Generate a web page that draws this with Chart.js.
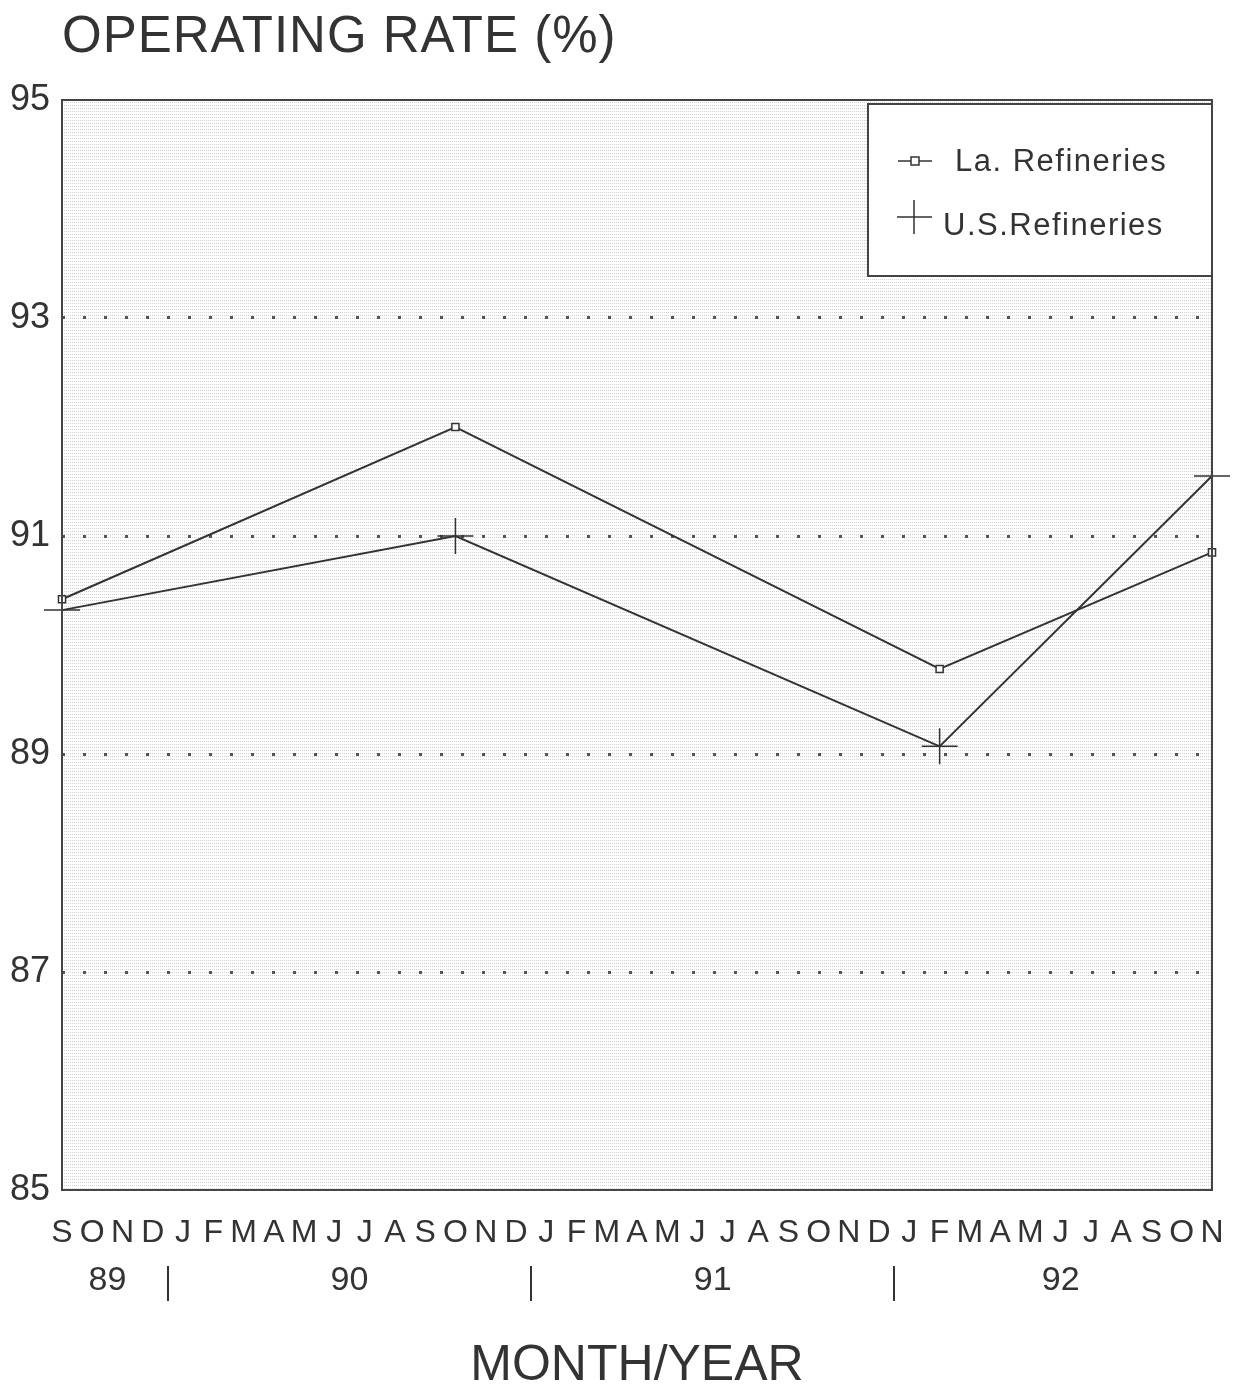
<!DOCTYPE html>
<html>
<head>
<meta charset="utf-8">
<script src="https://cdn.jsdelivr.net/npm/chart.js@4.4.1/dist/chart.umd.min.js"></script>
<style>
  html, body { margin: 0; padding: 0; background: #fff; overflow: hidden; }
  #wrap { width: 1234px; height: 1389px; position: relative; }
  canvas { display: block; }
</style>
</head>
<body>
<div id="wrap"><canvas id="chart"></canvas></div>
<script>
// month letters, Sep 1989 .. Nov 1992
const months = ["S","O","N","D",
  "J","F","M","A","M","J","J","A","S","O","N","D",
  "J","F","M","A","M","J","J","A","S","O","N","D",
  "J","F","M","A","M","J","J","A","S","O","N"];
// year labels and the month index they sit over
const years = ["89", "90", "91", "92"];
const yearCenters = [1.5, 9.5, 21.5, 33];
const yearBreaks = [3.5, 15.5, 27.5];

// sampled months (index into months) and readings
const sampleIdx = [0, 13, 29, 38];
const laRefineries = [90.42, 92.0, 89.78, 90.85];
const usRefineries = [90.32, 91.0, 89.07, 91.55];

const yTicks = [85, 87, 89, 91, 93, 95];

const FONT = "'Liberation Sans', Arial, Helvetica, sans-serif";
const INK = "#333";

// spread the sampled readings over the month axis, gaps elsewhere
function toSeries(vals) {
  const out = months.map(() => null);
  sampleIdx.forEach((m, i) => { out[m] = vals[i]; });
  return out;
}

// faint dotted texture for the plot area
function makePattern(ctx) {
  const c = document.createElement("canvas");
  c.width = 2; c.height = 3;
  const g = c.getContext("2d");
  g.fillStyle = "#fff";
  g.fillRect(0, 0, 2, 3);
  g.fillStyle = "#d2d2d2";
  g.fillRect(0, 0, 1, 1);
  return ctx.createPattern(c, "repeat");
}

const decor = {
  id: "decor",
  beforeDraw(chart) {
    const { ctx, chartArea: a } = chart;
    ctx.save();
    ctx.fillStyle = makePattern(ctx);
    ctx.fillRect(a.left, a.top, a.right - a.left, a.bottom - a.top);
    ctx.restore();
  },
  afterDraw(chart) {
    const { ctx, chartArea: a, scales } = chart;
    const x = scales.x;
    ctx.save();
    // frame
    ctx.strokeStyle = "#444";
    ctx.lineWidth = 2;
    ctx.strokeRect(a.left, a.top, a.right - a.left, a.bottom - a.top);

    // title
    ctx.fillStyle = INK;
    ctx.font = "51px " + FONT;
    ctx.textAlign = "left";
    ctx.textBaseline = "alphabetic";
    ctx.letterSpacing = "1px";
    ctx.fillText("OPERATING RATE (%)", a.left, 52);
    ctx.letterSpacing = "0px";

    // years
    ctx.font = "34px " + FONT;
    ctx.textAlign = "center";
    ctx.textBaseline = "middle";
    years.forEach((y, i) => {
      ctx.fillText(y, x.getPixelForValue(yearCenters[i]), 1281);
    });
    ctx.lineWidth = 2;
    ctx.strokeStyle = INK;
    yearBreaks.forEach(v => {
      const px = Math.round(x.getPixelForValue(v));
      ctx.beginPath();
      ctx.moveTo(px, 1266);
      ctx.lineTo(px, 1301);
      ctx.stroke();
    });

    // axis title
    ctx.font = "50px " + FONT;
    ctx.fillText("MONTH/YEAR", (a.left + a.right) / 2, 1366);

    // legend
    const lx = 868, ly = 104, lw = a.right - 868, lh = 172;
    ctx.fillStyle = "#fff";
    ctx.fillRect(lx, ly, lw, lh);
    ctx.strokeStyle = "#444";
    ctx.lineWidth = 2;
    ctx.strokeRect(lx, ly, lw, lh);

    ctx.strokeStyle = INK;
    ctx.lineWidth = 1.5;
    ctx.beginPath();
    ctx.moveTo(898, 161); ctx.lineTo(932, 161);
    ctx.stroke();
    ctx.fillStyle = "#fff";
    ctx.fillRect(911, 157, 8, 8);
    ctx.strokeRect(911, 157, 8, 8);

    ctx.beginPath();
    ctx.moveTo(897, 217); ctx.lineTo(932, 217);
    ctx.moveTo(914, 200); ctx.lineTo(914, 234);
    ctx.stroke();

    ctx.fillStyle = INK;
    ctx.font = "31px " + FONT;
    ctx.textAlign = "left";
    ctx.letterSpacing = "1.5px";
    ctx.fillText(chart.data.datasets[0].label, 955, 162);
    ctx.fillText(chart.data.datasets[1].label, 943, 226);
    ctx.restore();
  }
};

new Chart(document.getElementById("chart"), {
  type: "line",
  data: {
    labels: months,
    datasets: [
      {
        label: "La. Refineries",
        data: toSeries(laRefineries),
        spanGaps: true,
        borderColor: INK,
        borderWidth: 2,
        pointStyle: "rect",
        pointRadius: 5,
        pointBackgroundColor: "#fff",
        pointBorderColor: INK,
        pointBorderWidth: 1.5,
        clip: false
      },
      {
        label: "U.S.Refineries",
        data: toSeries(usRefineries),
        spanGaps: true,
        borderColor: INK,
        borderWidth: 2,
        pointStyle: "cross",
        pointRadius: 18,
        pointBorderColor: INK,
        pointBorderWidth: 1.5,
        clip: false
      }
    ]
  },
  options: {
    responsive: true,
    maintainAspectRatio: false,
    animation: false,
    layout: { autoPadding: false, padding: { top: 100, right: 22, bottom: 0, left: 0 } },
    plugins: {
      legend: { display: false },
      title: { display: false },
      tooltip: { enabled: false }
    },
    scales: {
      x: {
        type: "category",
        offset: false,
        // invisible tick marks push the month letters down
        grid: { display: true, drawOnChartArea: false, drawTicks: true, tickLength: 22, tickColor: "rgba(0,0,0,0)" },
        border: { display: false },
        ticks: {
          autoSkip: false,
          maxRotation: 0,
          minRotation: 0,
          padding: 2,
          color: INK,
          font: { family: FONT, size: 32 }
        },
        afterFit(s) { s.height = 199; }
      },
      y: {
        min: 85,
        max: 95,
        afterBuildTicks(s) { s.ticks = yTicks.map(v => ({ value: v })); },
        grid: {
          drawTicks: false,
          lineWidth: 3,
          color: c => (c.tick && (c.tick.value === 85 || c.tick.value === 95)) ? "rgba(0,0,0,0)" : "#555"
        },
        border: { display: false, dash: [3, 18] },
        ticks: {
          padding: 12,
          color: INK,
          font: { family: FONT, size: 36 }
        },
        afterFit(s) { s.width = 62; }
      }
    }
  },
  plugins: [decor]
});
</script>
</body>
</html>
